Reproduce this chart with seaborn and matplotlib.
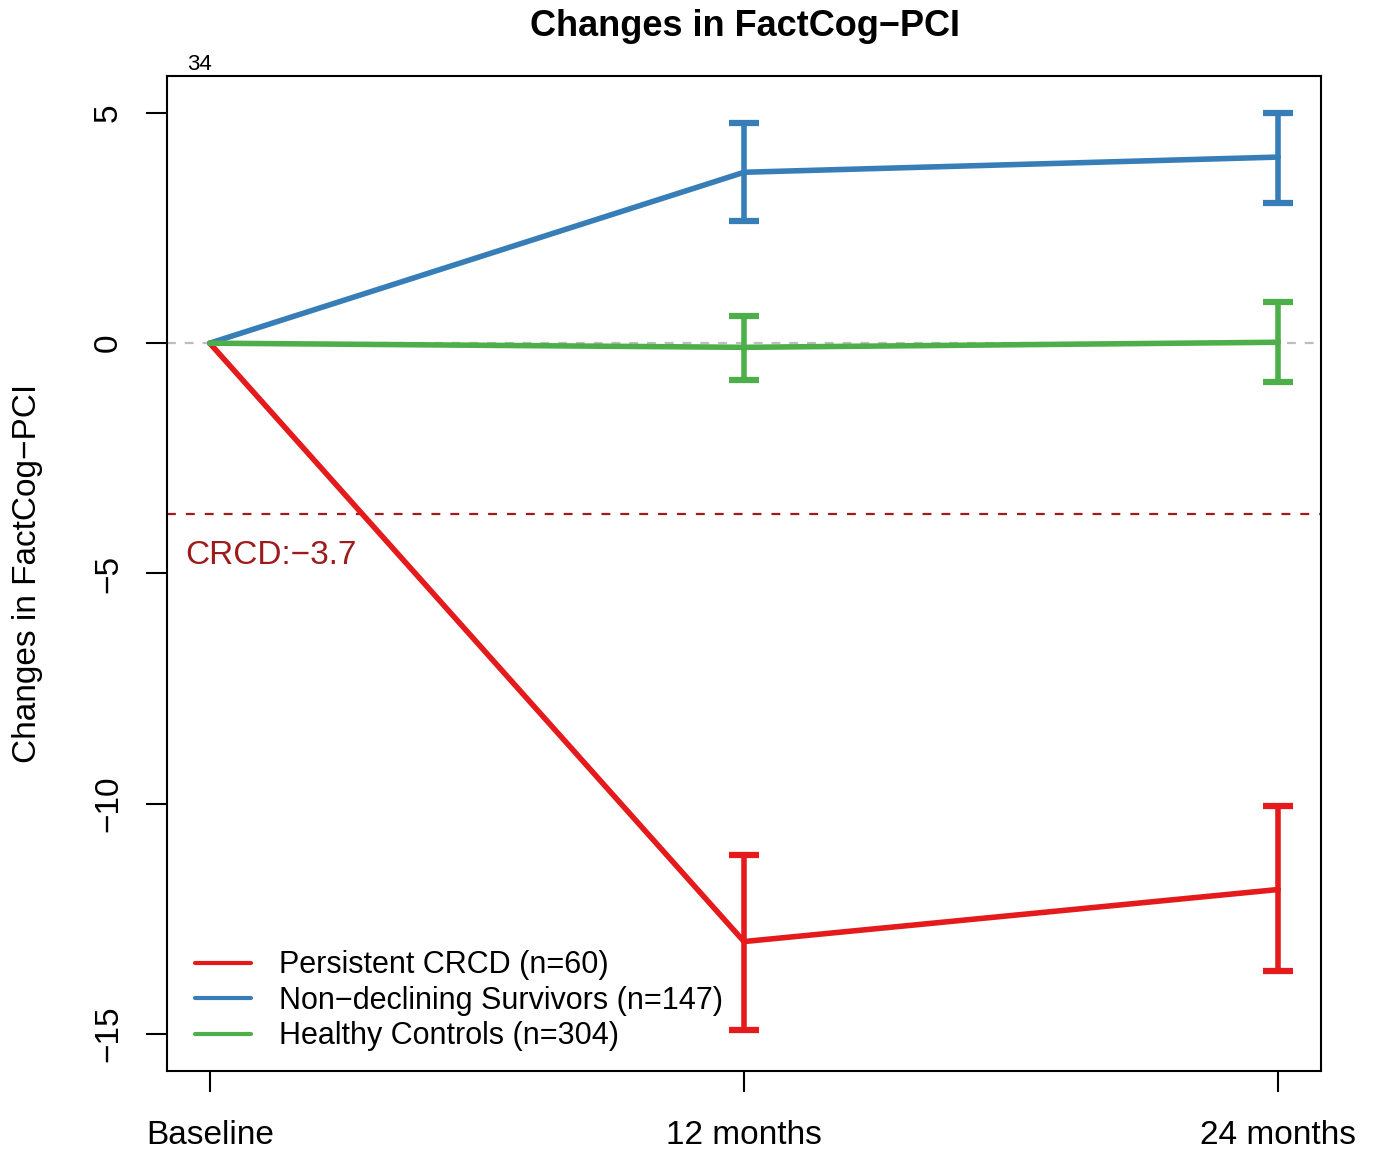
import matplotlib
matplotlib.use("Agg")
import matplotlib.pyplot as plt
import seaborn as sns
import pandas as pd
import numpy as np
from matplotlib.lines import Line2D

# ---- data ----
timepoints = ["Baseline", "12 months", "24 months"]
x_pos = [1, 2, 3]
groups = ["Persistent CRCD (n=60)", "Non\u2212declining Survivors (n=147)", "Healthy Controls (n=304)"]
colors = ["#E41A1C", "#377EB8", "#4DAF4A"]

crcd_mean = [0.0, -12.99, -11.86]
crcd_low = [None, -14.90, -13.64]
crcd_high = [None, -11.12, -10.05]

surv_mean = [0.0, 3.71, 4.04]
surv_low = [None, 2.65, 3.04]
surv_high = [None, 4.78, 5.00]

ctrl_mean = [0.0, -0.09, 0.02]
ctrl_low = [None, -0.80, -0.85]
ctrl_high = [None, 0.59, 0.89]

crcd_threshold = -3.7
yticks = [-15, -10, -5, 0, 5]

sns.set_theme(style="ticks")
plt.rcParams['font.family'] = ['Liberation Sans', 'DejaVu Sans']
plt.rcParams['text.color'] = 'black'
plt.rcParams['axes.labelcolor'] = 'black'
plt.rcParams['xtick.color'] = 'black'
plt.rcParams['ytick.color'] = 'black'

fig = plt.figure(figsize=(13.76, 11.52), dpi=100)
ax = fig.add_axes([167/1376, 1 - 1071/1152, (1321-167)/1376, (1071-76)/1152])

means = [crcd_mean, surv_mean, ctrl_mean]
lows = [crcd_low, surv_low, ctrl_low]
highs = [crcd_high, surv_high, ctrl_high]

rows = []
for g, m in zip(groups, means):
    for xp, v in zip(x_pos, m):
        rows.append({"x": xp, "y": v, "group": g})
df = pd.DataFrame(rows)

# reference lines
ax.axhline(0, color="#BEBEBE", lw=1.6, ls=(0, (4, 4)), zorder=1)
ax.axhline(crcd_threshold, color="#A31A1A", lw=1.6, ls=(0, (4, 4.5)), zorder=1)

sns.lineplot(data=df, x="x", y="y", hue="group", palette=colors, hue_order=groups,
             lw=4, ax=ax, legend=False, zorder=3)

for m, lo, hi, c in zip(means, lows, highs, colors):
    xs = [x for x, l in zip(x_pos, lo) if l is not None]
    ms = [v for v, l in zip(m, lo) if l is not None]
    lo_v = [l for l in lo if l is not None]
    hi_v = [h for h in hi if h is not None]
    err = [np.array(ms) - np.array(lo_v), np.array(hi_v) - np.array(ms)]
    ax.errorbar(xs, ms, yerr=err, fmt="none", ecolor=c, elinewidth=4,
                capsize=11, capthick=4.5, zorder=4)

ax.text(0.955, crcd_threshold - 0.9, "CRCD:\u22123.7", color="#9E1B1B", fontsize=24,
        ha="left", va="center")

ax.set_xlim(0.92, 3.08)
ax.set_ylim(-15.8, 5.8)
ax.set_xticks(x_pos)
ax.set_xticklabels(timepoints, fontsize=24)
ax.set_yticks(yticks)
ax.set_yticklabels([str(t).replace("-", "\u2212") for t in yticks], fontsize=24,
                   rotation=90, va="center")
ax.tick_params(axis="both", direction="out", length=15, width=1.5, colors="black")
ax.tick_params(axis="x", pad=20)
ax.tick_params(axis="y", pad=16)
for s in ax.spines.values():
    s.set_visible(True)
    s.set_linewidth(1.5)
    s.set_color("black")

ax.set_xlabel("")
ax.set_ylabel("Changes in FactCog\u2212PCI", fontsize=24, labelpad=36)
fig.text(0.5415, 1 - 27/1152, "Changes in FactCog\u2212PCI", fontsize=26, fontweight="bold",
         ha="center", va="center", color="black")
fig.text(199/1376, 1 - 64/1152, "34", fontsize=16, ha="center", va="center", color="black")

# legend
handles = [Line2D([0], [0], color=c, lw=3) for c in colors]
leg = ax.legend(handles, groups, loc="lower left", frameon=False, fontsize=22,
                handlelength=1.86, handletextpad=0.9, labelspacing=0.18,
                bbox_to_anchor=(0.0, -0.008))
for t in leg.get_texts():
    t.set_color("black")

fig.savefig("out.png", dpi=100)
